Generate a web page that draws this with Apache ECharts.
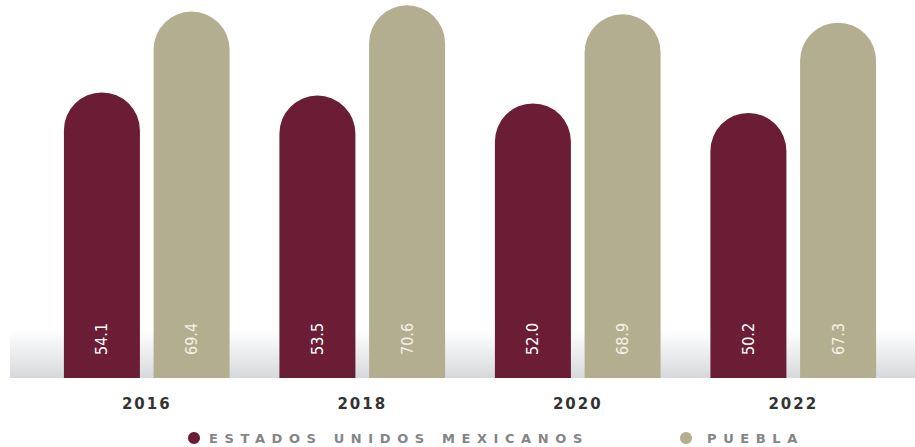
<!DOCTYPE html>
<html>
<head>
<meta charset="utf-8">
<script src="https://cdn.jsdelivr.net/npm/echarts@6/dist/echarts.min.js"></script>
<style>
html,body{margin:0;padding:0;background:#fff;}
#chart{width:915px;height:447px;}
</style>
</head>
<body>
<div id="chart"></div>
<script>
const categories = ['2016', '2018', '2020', '2022'];
const seriesNames = ['ESTADOS UNIDOS MEXICANOS', 'PUEBLA'];
const mexicoValues = [54.1, 53.5, 52.0, 50.2];
const pueblaValues = [69.4, 70.6, 68.9, 67.3];

const RED = '#6a1d35';
const TAN = '#b4ae90';

const chart = echarts.init(document.getElementById('chart'), null, {renderer: 'svg'});

const labelBase = {
  show: true,
  position: 'insideBottom',
  rotate: 90,
  align: 'left',
  verticalAlign: 'middle',
  distance: 23,
  fontFamily: "'Liberation Sans Narrow', 'DejaVu Sans Condensed', 'Liberation Sans', sans-serif",
  fontSize: 16,
  formatter: p => Number(p.value).toFixed(1)
};

const legendBase = {
  icon: 'circle',
  itemHeight: 12,
  top: 431,
  padding: 0,
  selectedMode: false,
  textStyle: {fontFamily: 'DejaVu Sans', fontSize: 13, fontWeight: 'bold', color: '#858585', lineHeight: 14}
};

chart.setOption({
  animation: false,
  backgroundColor: '#fff',
  graphic: [{
    type: 'rect',
    z: -10,
    silent: true,
    shape: {x: 10, y: 330, width: 905, height: 48},
    style: {
      fill: new echarts.graphic.LinearGradient(0, 0, 0, 1, [
        {offset: 0, color: 'rgba(255,255,255,1)'},
        {offset: 1, color: '#d6d9dc'}
      ])
    }
  }],
  grid: {left: 39, right: 14, top: 0, bottom: 69},
  xAxis: {
    type: 'category',
    data: categories,
    axisLine: {show: false},
    axisTick: {show: false},
    axisLabel: {
      margin: 18,
      fontFamily: 'DejaVu Sans',
      fontWeight: 'bold',
      fontSize: 15,
      color: '#333'
    }
  },
  yAxis: {
    type: 'value',
    min: 0,
    max: 71.6,
    show: false,
    splitLine: {show: false}
  },
  legend: [
    Object.assign({}, legendBase, {data: [seriesNames[0]], left: 188, itemWidth: 20}),
    Object.assign({}, legendBase, {data: [seriesNames[1]], left: 680, itemWidth: 32})
  ],
  series: [
    {
      name: seriesNames[0],
      type: 'bar',
      data: mexicoValues,
      barWidth: 76,
      barGap: '18%',
      itemStyle: {color: RED, borderRadius: [38, 38, 0, 0]},
      label: Object.assign({}, labelBase, {color: '#ffffff'})
    },
    {
      name: seriesNames[1],
      type: 'bar',
      data: pueblaValues,
      barWidth: 76,
      barGap: '18%',
      itemStyle: {color: TAN, borderRadius: [38, 38, 0, 0]},
      label: Object.assign({}, labelBase, {color: '#f4f1e6'})
    }
  ]
});

function applySpacing() {
  const texts = document.querySelectorAll('#chart svg text');
  texts.forEach(t => {
    const s = t.textContent;
    if (seriesNames.indexOf(s) >= 0) {
      t.style.letterSpacing = '6.6px';
    } else if (categories.indexOf(s) >= 0) {
      t.style.letterSpacing = '2px';
    }
  });
}
applySpacing();
chart.on('finished', applySpacing);
</script>
</body>
</html>
